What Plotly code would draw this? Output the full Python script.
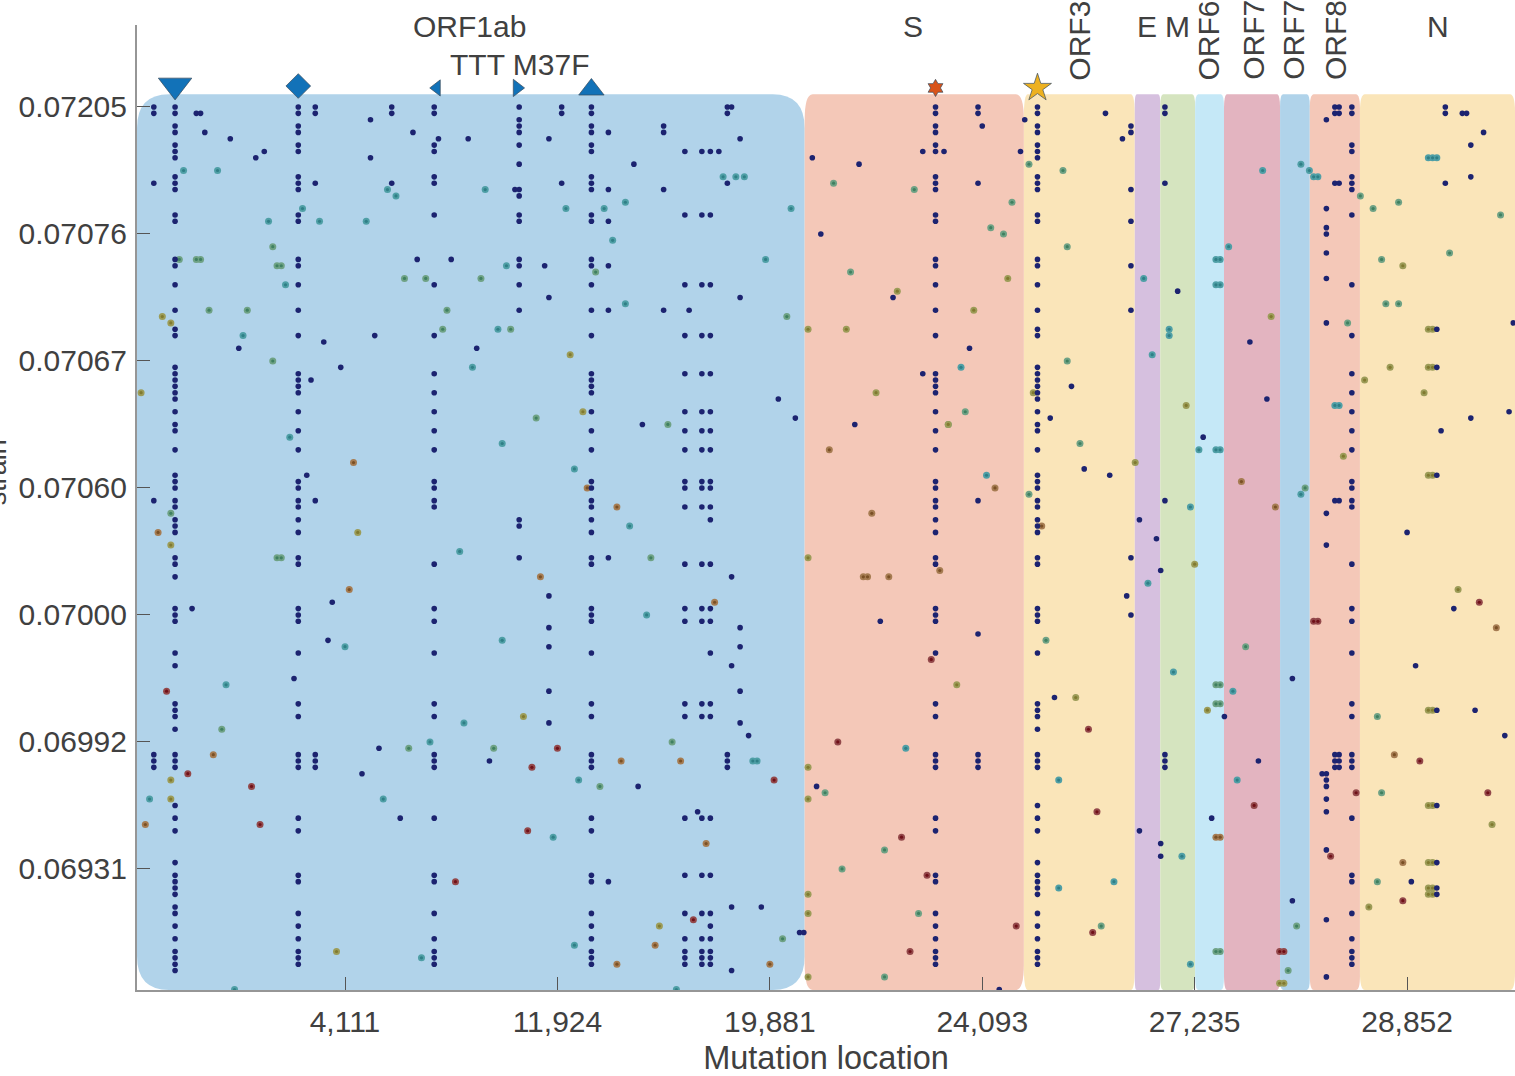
import plotly.graph_objects as go

# ---------- axes ----------
x_tick_positions = [50, 100, 150, 200, 250, 300]
x_tick_labels = ["4,111", "11,924", "19,881", "24,093", "27,235", "28,852"]
y_tick_positions = [0, 20, 40, 60, 80, 100, 120]
y_tick_labels = ["0.07205", "0.07076", "0.07067", "0.07060", "0.07000", "0.06992", "0.06931"]

# ---------- genes ----------
gene_names = ["ORF1ab", "S", "ORF3a", "E", "M", "ORF6", "ORF7a", "ORF7b", "ORF8", "N"]
gene_starts = [1.04, 158.2, 209.8, 235.9, 241.9, 250.1, 256.9, 270.1, 277.1, 288.9]
gene_ends = [158.2, 209.8, 235.9, 241.9, 250.1, 256.9, 270.1, 277.1, 288.9, 325.4]
gene_colors = ["#b1d3ea", "#f4c8b8", "#fae5b9", "#d6c0df", "#d5e4bf",
               "#c5e8f7", "#e3b4c0", "#b0d3ea", "#f4c8b8", "#fae5b9"]
gene_corner_x = [32, 8, 4, 2, 3, 3, 3, 3, 4, 5]
gene_corner_y = [34, 26, 22, 10, 12, 14, 16, 12, 14, 18]

# ---------- recurrent mutations: rows per column ----------
col_a = [0,1,3,4,6,7,8,11,12,13,17,18,24,25,28,32,35,36,41,42,43,44,45,46,48,50,51,54,58,59,60,62,63,65,66,67,71,72,74,79,80,81,86,88,
         94,95,96,98,102,103,104,110,112,114,119,121,122,123,124,126,127,129,131,133,134,135,136]
col_b = [0,1,3,4,6,7,11,12,13,17,18,24,25,28,32,36,42,43,44,45,48,51,54,59,60,62,63,65,67,71,72,79,80,81,86,
         94,96,102,103,104,112,114,121,122,127,129,131,133,134,135]
col_c = [0,1,6,7,11,12,17,28,36,42,45,48,51,54,59,60,62,63,72,79,81,86,94,96,102,103,104,112,121,122,127,131,133,134,135]
col_d = [0,2,3,4,6,9,13,14,17,18,24,25,28,32,65,66,71]
col_e = [0,1,3,4,6,7,11,12,13,17,18,24,25,28,32,36,42,43,44,45,48,51,54,59,60,62,63,65,67,71,72,79,80,81,86,
         94,96,102,103,104,112,114,121,122,127,129,131,133,134,135]
col_s = [0,1,3,4,6,7,11,12,13,17,18,24,25,28,32,36,42,43,44,45,48,51,54,59,60,62,63,65,67,71,72,79,80,81,86,
         94,96,102,103,104,112,114,121,122,127,129,131,133,134,135]
col_orf3 = [0,1,3,4,6,7,8,11,12,13,17,18,24,25,28,32,35,36,41,42,43,44,45,46,48,50,51,54,58,59,60,62,63,65,66,67,71,72,79,80,81,86,
            94,95,96,98,102,103,104,110,112,114,119,121,122,123,124,127,129,131,133,134,135]
col_nsp1 = [7,17,28,36,42,48,51,54,59,60,63,72,79,81,94,96,112,121,127,131,133,134,135]
col_nsp2 = [7,17,28,36,42,48,51,54,59,60,63,72,79,81,94,96,112,121,127,131,133,134,135]
col_nsp3 = [7,17,28,36,42,48,51,54,59,60,63,65,72,79,81,86,94,96,112,121,127,129,131,133,134,135]
col_orf8 = [0,1,6,7,11,12,13,17,28,36,42,45,48,51,54,59,60,62,63,72,79,81,86,94,96,102,103,104,112,121,122,127,131,133,134,135]

recurrent_cols = [10, 39, 71, 91, 108, 189, 213, 130, 134, 136, 287]
recurrent_rows = [col_a, col_b, col_c, col_d, col_e, col_s, col_orf3, col_nsp1, col_nsp2, col_nsp3, col_orf8]

# ---------- scattered mutations (column, row) by colour class ----------
navy_points = [(5,0),(5,1),(15,1),(16,1),(43,0),(43,1),(56,2),(61,0),(61,1),(17,4),(23,5),(31,7),(29,8),(66,4),(72,5),(79,5),(98,5),
 (56,8),(118,9),(101,0),(101,1),(112,4),(5,12),(43,12),(61,12),(101,12),(90,13),(112,13),(112,18),(67,24),(75,24),(97,25),(112,25),
 (98,30),(112,32),(57,36),(45,37),(25,38),(49,41),(42,43),(81,38),(120,50),(41,58),(5,62),(43,62),(1,58),(14,79),(112,71),(98,77),
 (47,78),(98,82),(98,85),(46,84),(38,90),(98,92),(98,97),(58,101),(84,103),(5,102),(5,103),(5,104),(43,102),(43,103),(43,104),(54,105),
 (63,112),(119,107),(112,122),
 (125,3),(125,4),(140,0),(141,0),(140,1),(143,5),(140,12),(125,13),(143,30),(125,32),(131,32),(138,7),
 (160,8),(171,9),(186,7),(191,7),(199,0),(199,1),(200,3),(210,2),(209,7),(199,12),(162,20),
 (229,1),(235,3),(235,4),(233,5),(235,13),(235,18),(235,25),(235,32),(243,0),(243,1),(243,12),(246,29),(263,37),
 (283,0),(283,1),(284,0),(284,1),(281,2),(283,12),(284,12),(281,16),(281,19),(281,20),(281,23),(281,27),(281,34),
 (309,0),(309,1),(313,1),(314,1),(318,4),(315,6),(315,11),(309,12),(325,34),(307,35),
 (152,46),(156,49),(170,50),(186,42),(197,38),(199,62),(141,74),(143,82),(143,85),(141,88),(176,81),(199,83),
 (143,92),(143,97),(145,99),(140,102),(140,103),(140,104),(161,107),(199,102),(199,103),(199,104),(133,111),(141,126),(148,126),
 (157,130),(158,130),(141,136),(204,139),
 (224,57),(230,58),(252,52),(243,62),(237,65),(241,68),(235,71),(242,73),(234,77),(235,80),(267,46),(281,64),(281,69),(283,62),(284,62),(273,90),
 (307,41),(315,49),(308,51),(324,48),(307,58),(300,67),(311,79),(302,88),
 (243,102),(243,103),(243,104),(237,114),(242,116),(242,118),(257,96),(265,103),(254,112),(273,125),
 (283,102),(283,103),(283,104),(284,102),(284,103),(284,104),(280,105),(281,105),(281,106),(281,107),(281,109),(281,111),(281,117),(281,128),(281,137),
 (307,95),(316,95),(323,99),(307,110),(307,119),(301,122),(307,123),(307,124),(217,93),(221,44),(216,49),(179,30)]

teal_points = [(12,10),(20,10),(60,13),(62,14),(83,13),(102,16),(111,16),(116,15),(40,16),(44,18),(32,18),(55,18),(113,21),(88,25),(36,28),(116,31),(26,36),(86,35),
 (80,41),(37,52),(87,53),(104,57),(117,66),(77,70),(121,80),(87,84),(50,85),(22,91),(78,97),(70,100),(4,109),(59,109),(105,106),(99,115),(68,134),(104,132),(24,139),
 (139,11),(142,11),(144,11),(155,16),(149,24),(128,139),(146,103),(147,103),(182,101),(201,58),(195,41),(218,106),(218,123),
 (238,27),(244,35),(244,36),(266,10),(258,22),(255,24),(256,24),(255,28),(256,28),(275,9),(277,10),(278,11),(279,11),(305,8),(306,8),(307,8),
 (240,39),(251,54),(255,54),(256,54),(249,63),(239,75),(245,89),(275,61),(283,47),(284,47),(259,92),(260,106),(247,118),(249,135),(231,122)]

green_points = [(33,22),(11,24),(15,24),(16,24),(34,25),(35,25),(109,26),(64,27),(69,27),(82,27),(18,32),(27,32),(74,32),(73,35),(89,35),
 (33,40),(95,49),(9,64),(34,71),(35,71),(21,98),(65,101),(85,101),(110,107),
 (154,33),(219,10),(220,22),(165,12),(184,13),(207,15),(202,19),(205,20),(169,26),(211,9),(289,14),(292,16),(298,15),(322,17),(310,23),(294,24),(295,31),(298,31),(286,34),
 (126,50),(196,48),(192,50),(211,61),(122,71),(220,40),(215,84),(223,53),
 (127,100),(163,108),(153,131),(185,127),(177,117),(167,120),(177,137),(228,129),(274,129),(272,136),(262,85),(276,60),
 (255,91),(256,91),(255,94),(256,94),(255,133),(256,133),(293,96),(294,108),(293,122)]

olive_points = [(7,33),(9,34),(103,39),(2,45),(106,48),(53,67),(9,69),(92,96),(9,106),(9,109),(48,133),
 (180,29),(206,27),(198,32),(159,35),(168,35),(299,25),(305,35),(306,35),(268,33),
 (175,45),(212,45),(159,71),(194,91),(222,93),(159,104),(159,109),(159,124),(159,127),(159,137),(124,129),
 (236,56),(248,47),(250,72),(285,55),(290,43),(296,41),(305,41),(306,41),(304,45),(305,58),(306,58),(312,76),(253,95),
 (270,138),(271,138),(305,95),(306,95),(305,110),(306,110),(320,113),(305,119),(306,119),(305,123),(306,123),(305,124),(306,124),(291,126),(192,50)]

brown_points = [(52,56),(107,60),(114,63),(6,67),(96,74),(51,76),(19,102),(115,103),(3,113),(114,135),
 (164,54),(203,60),(174,64),(214,66),(172,74),(173,74),(178,74),(190,73),(137,78),(129,103),(135,116),(123,132),(150,135),
 (261,59),(269,63),(255,115),(256,115),(297,102),(299,119),(321,82)]

red_points = [(8,92),(100,101),(94,104),(13,105),(28,107),(30,113),(93,114),(76,122),(188,87),(166,100),(151,106),(181,115),(187,121),(132,128),(208,129),(183,133),
 (225,98),(227,111),(226,130),(264,110),(278,81),(279,81),(270,133),(271,133),(288,108),(282,118),(303,103),(319,108),(299,125),(317,78)]

class_points = [teal_points, green_points, olive_points, brown_points, red_points]
class_colors = ["#4f9fa6", "#6fa285", "#9c9c58", "#a67c52", "#93484a"]
class_centers = ["#2f7f86", "#3f8060", "#807a30", "#7a5025", "#701018"]

# ---------- top markers ----------
marker_cols = [10, 39, 71.6, 90.5, 108, 189, 213]
marker_rows = [-3.4, -3.3, -3.0, -3.0, -2.75, -3.0, -3.0]
marker_symbols = ["triangle-down", "diamond", "triangle-left", "triangle-right", "triangle-up", "hexagram", "star"]
marker_sizes = [29, 19, 14, 15, 22, 13, 21]
marker_colors = ["#1272b8", "#1272b8", "#1272b8", "#1272b8", "#1272b8", "#d95319", "#edb120"]

fig = go.Figure()

# recurrent columns and navy points
rec_x = [c for c, rows in zip(recurrent_cols, recurrent_rows) for _ in rows]
rec_y = [r for rows in recurrent_rows for r in rows]
navy_x = rec_x + [p[0] for p in navy_points]
navy_y = rec_y + [p[1] for p in navy_points]

for pts, col, cen in zip(class_points, class_colors, class_centers):
    fig.add_trace(go.Scatter(x=[p[0] for p in pts], y=[p[1] for p in pts], mode="markers",
                             marker=dict(size=7, color=col, line=dict(width=0)), hoverinfo="skip"))
    fig.add_trace(go.Scatter(x=[p[0] for p in pts], y=[p[1] for p in pts], mode="markers",
                             marker=dict(size=3.2, color=cen, line=dict(width=0)), hoverinfo="skip"))
fig.add_trace(go.Scatter(x=navy_x, y=navy_y, mode="markers",
                         marker=dict(size=5.6, color="#1c2370", line=dict(width=0)), hoverinfo="skip"))
fig.add_trace(go.Scatter(x=marker_cols, y=marker_rows, mode="markers", cliponaxis=False,
                         marker=dict(size=marker_sizes, color=marker_colors, symbol=marker_symbols, opacity=1,
                                     line=dict(width=0.7, color="#3a4a5a")), hoverinfo="skip"))

# gene regions
PX_X, PX_Y = 4.248, 6.35
TOP, BOTTOM = -2.0, 139.06
shapes = []
for s, e, c, rx, ry in zip(gene_starts, gene_ends, gene_colors, gene_corner_x, gene_corner_y):
    dx, dy = rx / PX_X, ry / PX_Y
    path = (f"M {s+dx} {TOP} L {e-dx} {TOP} Q {e} {TOP} {e} {TOP+dy} L {e} {BOTTOM-dy} "
            f"Q {e} {BOTTOM} {e-dx} {BOTTOM} L {s+dx} {BOTTOM} Q {s} {BOTTOM} {s} {BOTTOM-dy} "
            f"L {s} {TOP+dy} Q {s} {TOP} {s+dx} {TOP} Z")
    shapes.append(dict(type="path", path=path, xref="x", yref="y", fillcolor=c,
                       line=dict(width=0), layer="below"))

# labels
TXT = "#404040"
FS = 30
labels_flat = [("ORF1ab", 79.2, -12.7), ("TTT M37F", 91, -6.7), ("S", 183.7, -12.7), ("E", 238.8, -12.7), ("M", 245.9, -12.7), ("N", 307.3, -12.7)]
labels_vert = [("ORF3a", 223), ("ORF6", 253.2), ("ORF7a", 264), ("ORF7b", 273.4), ("ORF8", 283)]
ann = []
for t, x, y in labels_flat:
    ann.append(dict(text=t, x=x, y=y, xref="x", yref="y", showarrow=False, xanchor="center", yanchor="middle",
                    font=dict(size=FS, color=TXT, family="Liberation Sans")))
for t, x in labels_vert:
    ann.append(dict(text=t, x=x, y=-3.9, xref="x", yref="y", showarrow=False, xanchor="center", yanchor="bottom",
                    textangle=-90, font=dict(size=FS, color=TXT, family="Liberation Sans")))
ann.append(dict(text="strain", x=-0.102, y=0.537, xref="paper", yref="paper", showarrow=False, xanchor="center",
                yanchor="middle", textangle=-90, font=dict(size=27, color=TXT, family="Liberation Sans")))

fig.update_layout(
    width=1515, height=1076, autosize=False, showlegend=False,
    margin=dict(l=137, r=0, t=25, b=86), paper_bgcolor="white", plot_bgcolor="white",
    shapes=shapes, annotations=ann,
    font=dict(family="Liberation Sans", size=FS, color=TXT),
    xaxis=dict(range=[1.04, 325.4], tickmode="array", tickvals=x_tick_positions, ticktext=x_tick_labels,
               ticks="inside", ticklen=13, tickwidth=1, tickcolor="#555555", showgrid=False, zeroline=False,
               showline=True, linecolor="#969696", linewidth=2, tickfont=dict(size=FS, color=TXT), ticklabelstandoff=4,
               title=dict(text="Mutation location", font=dict(size=32.5, color=TXT), standoff=12)),
    yaxis=dict(range=[139.06, -12.91], tickmode="array", tickvals=y_tick_positions, ticktext=y_tick_labels,
               ticks="inside", ticklen=13, tickwidth=1, tickcolor="#555555", showgrid=False, zeroline=False,
               showline=True, linecolor="#969696", linewidth=2, tickfont=dict(size=FS, color=TXT), ticklabelstandoff=2),
)

fig.write_html("out.html", config={"displayModeBar": False}, post_script="document.body.style.margin='0';")
